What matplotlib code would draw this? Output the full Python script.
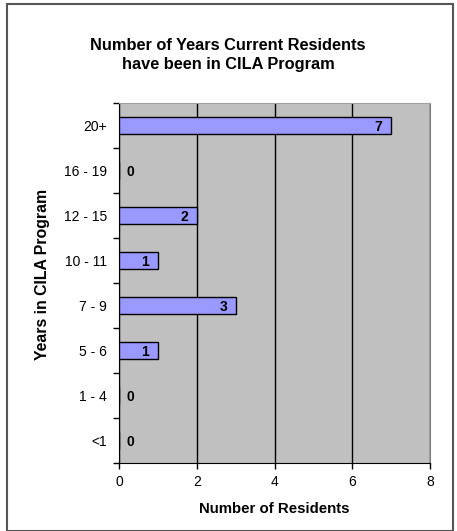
import matplotlib.pyplot as plt
from matplotlib.patches import Rectangle

categories = ["<1", "1 - 4", "5 - 6", "7 - 9", "10 - 11", "12 - 15", "16 - 19", "20+"]
residents = [0, 0, 1, 3, 1, 2, 0, 7]

plt.rcParams['font.family'] = ['Liberation Sans', 'DejaVu Sans']

W, H = 457, 531
fig = plt.figure(figsize=(W / 100, H / 100), dpi=100)
fig.patches.append(Rectangle((7 / W, 0), (453 - 7) / W, (H - 4) / H, transform=fig.transFigure,
                             fill=False, edgecolor='#555555', linewidth=1.5))

left, right, top, bottom = 119, 430, 103, 463
ax = fig.add_axes([left / W, 1 - bottom / H, (right - left) / W, (bottom - top) / H])
ax.set_facecolor('#C0C0C0')

y = list(range(len(categories)))
ax.barh(y, residents, height=0.39, color='#9999FF', edgecolor='black', linewidth=1, zorder=3)
for yi, v in zip(y, residents):
    if v > 0:
        ax.text(v - 0.22, yi, str(v), ha='right', va='center_baseline', fontsize=10, fontweight='bold', zorder=4)
    else:
        ax.text(0.2, yi, str(v), ha='left', va='center_baseline', fontsize=10, fontweight='bold', zorder=4)

ax.set_xlim(0, 8)
ax.set_ylim(-0.5, len(categories) - 0.5)
ax.set_xticks([0, 2, 4, 6, 8])
ax.set_yticks(y)
ax.set_yticklabels(categories)
ax.set_yticks([i + 0.5 for i in range(-1, len(categories))], minor=True)
ax.tick_params(axis='y', which='major', length=0, labelsize=10, pad=8.6)
ax.tick_params(axis='y', which='minor', length=4, width=1)
ax.tick_params(axis='x', length=4, width=1, labelsize=10, pad=5)
ax.grid(axis='x', color='black', linewidth=1, zorder=1)

ax.spines['left'].set_color('black')
ax.spines['bottom'].set_color('black')
ax.spines['right'].set_color('#808080')
ax.spines['top'].set_color('#A0A0A0')

ax.set_xlabel("Number of Residents", fontsize=10.8, fontweight='bold', labelpad=9)
ax.set_ylabel("Years in CILA Program", fontsize=11.4, fontweight='bold', va='center')
ax.yaxis.set_label_coords((43 - left) / (right - left), (bottom - 274) / (bottom - top))

fig.text(228 / W, 1 - 55 / H, "Number of Years Current Residents\nhave been in CILA Program",
         ha='center', va='center', fontsize=11.8, fontweight='bold', linespacing=1.25)

fig.savefig("out.png", dpi=100)
